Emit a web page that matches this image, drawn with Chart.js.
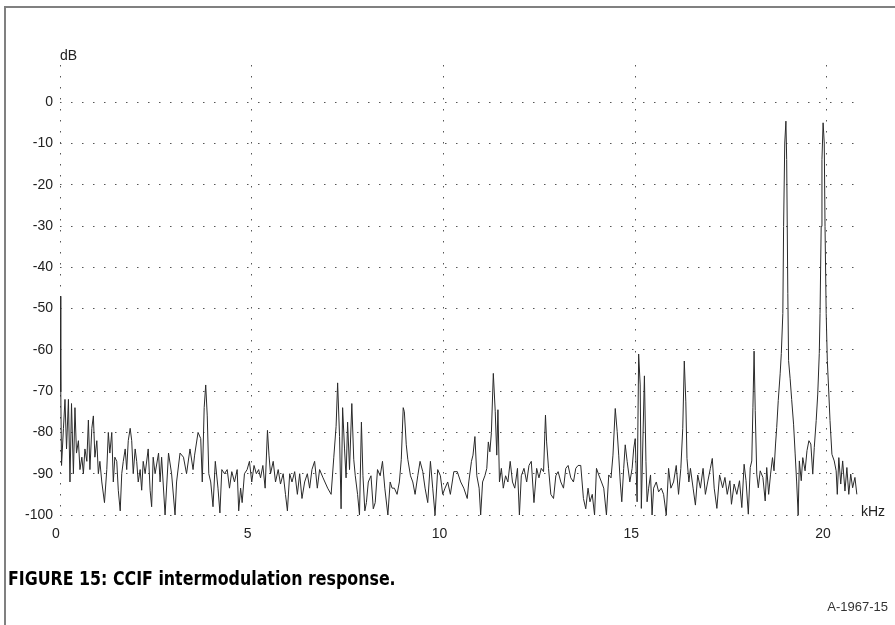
<!DOCTYPE html>
<html lang="en">
<head>
    <meta charset="UTF-8">
    <title>CCIF intermodulation response</title>
    <script src="https://cdn.jsdelivr.net/npm/chart.js"></script>
    <style>
        body { margin: 0; background: #fff; }
        #wrap { position: relative; width: 895px; height: 625px; overflow: hidden; }
        #frame { position: absolute; left: 4px; top: 6px; right: -4px; bottom: -4px;
                 border-top: 2px solid #808080; border-left: 2px solid #808080; }
        #caption { position: absolute; left: 8px; top: 566px; font-family: "Liberation Sans Narrow", "DejaVu Sans Condensed", sans-serif;
                   font-weight: bold; font-size: 20px; color: #000; white-space: nowrap;
                   transform: scaleX(0.88); transform-origin: left center; }
        #code { position: absolute; right: 7px; top: 599px; font-family: "Liberation Sans", Arial, sans-serif;
                font-size: 13px; color: #333; }
    </style>
</head>
<body>
<div id="wrap">
    <canvas id="myChart" width="895" height="625"></canvas>
    <div id="frame"></div>
    <div id="caption">FIGURE 15: CCIF intermodulation response.</div>
    <div id="code">A-1967-15</div>
</div>
<script>
    // [kHz, dB]
    const band0to3 = [
        [0.00, -47], [0.02, -70], [0.04, -88], [0.09, -79], [0.13, -72], [0.17, -84], [0.22, -72], [0.26, -92],
        [0.30, -73], [0.35, -90], [0.39, -74], [0.43, -85], [0.48, -82], [0.52, -89], [0.57, -86], [0.61, -90],
        [0.65, -84], [0.70, -87], [0.74, -77], [0.78, -89], [0.83, -79], [0.87, -76], [0.91, -86], [0.96, -82],
        [1.00, -90], [1.04, -87], [1.09, -92], [1.16, -97], [1.22, -89], [1.26, -80], [1.30, -85], [1.35, -80],
        [1.39, -92], [1.43, -86], [1.48, -87], [1.52, -94], [1.57, -99], [1.61, -90], [1.65, -87], [1.70, -84],
        [1.74, -89], [1.78, -82], [1.83, -79], [1.87, -82], [1.91, -90], [1.96, -84], [2.00, -87], [2.04, -92],
        [2.09, -89], [2.13, -94], [2.17, -87], [2.22, -90], [2.30, -84], [2.35, -94], [2.39, -98], [2.43, -86],
        [2.48, -90], [2.57, -85], [2.61, -92], [2.65, -86], [2.74, -100], [2.83, -85], [2.91, -90], [3.00, -100],
        [3.04, -92], [3.13, -85], [3.22, -86], [3.30, -90], [3.39, -84]
    ];
    const band3to7 = [
        [3.47, -89], [3.51, -85.5], [3.60, -80], [3.67, -81.5], [3.71, -92], [3.76, -74], [3.80, -68.5], [3.84, -76],
        [3.88, -90], [3.93, -92], [3.99, -98], [4.05, -87], [4.12, -93.5], [4.17, -99.5], [4.22, -89], [4.29, -90],
        [4.36, -89], [4.42, -93.5], [4.48, -89.5], [4.55, -92], [4.62, -89], [4.66, -99], [4.71, -93.5], [4.75, -97],
        [4.81, -90], [4.88, -89], [4.94, -87], [5.00, -92], [5.06, -88], [5.12, -90], [5.18, -89], [5.23, -91],
        [5.29, -88], [5.35, -93.5], [5.41, -79.5], [5.45, -85.5], [5.49, -90], [5.56, -87], [5.62, -92], [5.69, -89],
        [5.75, -92.5], [5.82, -90], [5.88, -95], [5.93, -99], [5.99, -90], [6.05, -92], [6.12, -89.5], [6.19, -95],
        [6.25, -90], [6.31, -96], [6.38, -92], [6.45, -90], [6.51, -93.5], [6.57, -89], [6.64, -87], [6.71, -93.5],
        [6.77, -89], [6.86, -91]
    ];
    const band7to10 = [
        [6.98, -93.5], [7.07, -95], [7.14, -86], [7.20, -78.5], [7.24, -68], [7.29, -81], [7.33, -98.5], [7.37, -74],
        [7.42, -84], [7.46, -91], [7.50, -77.5], [7.55, -89], [7.61, -73], [7.66, -86.5], [7.70, -90.5], [7.76, -95],
        [7.81, -100], [7.86, -77.5], [7.90, -90.5], [7.95, -99], [7.99, -97], [8.04, -92], [8.11, -90.5], [8.17, -98.5],
        [8.22, -97], [8.28, -89], [8.35, -90.5], [8.41, -87], [8.47, -93.5], [8.55, -100], [8.61, -92], [8.66, -93.5],
        [8.72, -93.5], [8.79, -95], [8.85, -92], [8.90, -86.5], [8.95, -74], [8.98, -75], [9.03, -83], [9.07, -86.5],
        [9.14, -90.5], [9.20, -92], [9.26, -95], [9.33, -90.5], [9.39, -87], [9.46, -89.5], [9.52, -93.5], [9.59, -97],
        [9.66, -87], [9.72, -93.5], [9.78, -100], [9.85, -89], [9.92, -90.5], [9.98, -95], [10.04, -93.5], [10.11, -92],
        [10.18, -95], [10.27, -89.5]
    ];
    const band10to14 = [
        [10.36, -89.5], [10.45, -92], [10.53, -93.5], [10.62, -96], [10.66, -92], [10.73, -87], [10.77, -85.5], [10.82, -81],
        [10.87, -90.5], [10.93, -93.5], [10.97, -100], [11.02, -92], [11.08, -90.5], [11.13, -88.7], [11.17, -82.3], [11.21, -84.7],
        [11.25, -80], [11.30, -65.7], [11.35, -75], [11.39, -85.5], [11.42, -74.5], [11.46, -92], [11.51, -88.7], [11.56, -93.5],
        [11.62, -90.5], [11.68, -92], [11.74, -87], [11.80, -92], [11.86, -93.5], [11.93, -88.7], [11.98, -100], [12.03, -90.5],
        [12.10, -88.7], [12.17, -92], [12.23, -88], [12.29, -87], [12.36, -97], [12.43, -88.7], [12.49, -91], [12.55, -88.7],
        [12.61, -89.5], [12.66, -75.8], [12.69, -82.3], [12.74, -88.7], [12.80, -95], [12.87, -96], [12.93, -90.5], [12.99, -89.5],
        [13.06, -92], [13.13, -93.5], [13.19, -88.7], [13.25, -88], [13.32, -91], [13.39, -92], [13.45, -88.7], [13.51, -88],
        [13.58, -88], [13.65, -96], [13.71, -98.5]
    ];
    const band14to17 = [
        [13.77, -93.5], [13.82, -96.8], [13.88, -95], [13.94, -100], [13.99, -88.7], [14.05, -90.3], [14.12, -92], [14.18, -93.5],
        [14.25, -100], [14.31, -90.3], [14.37, -91], [14.42, -85.5], [14.48, -74.2], [14.53, -79.8], [14.57, -85.5], [14.61, -92],
        [14.65, -96.8], [14.70, -88.7], [14.74, -83], [14.79, -87], [14.86, -92], [14.92, -88.7], [14.96, -84], [15.00, -81.5],
        [15.05, -96.8], [15.09, -61], [15.13, -68.5], [15.16, -98.4], [15.21, -78.2], [15.24, -66.3], [15.28, -87], [15.31, -96.8],
        [15.35, -93.5], [15.40, -90.3], [15.44, -100], [15.48, -93.5], [15.55, -92], [15.61, -94.4], [15.68, -93.5], [15.74, -95],
        [15.81, -100], [15.87, -88.7], [15.93, -93.5], [16.00, -92], [16.07, -88], [16.13, -95], [16.19, -88.7], [16.24, -79],
        [16.28, -62.7], [16.32, -72.6], [16.35, -86.3], [16.40, -92], [16.44, -88.7], [16.51, -93.5], [16.57, -97.6], [16.63, -90.3],
        [16.70, -93.5], [16.77, -88.7], [16.83, -95], [16.89, -92], [16.96, -88.7], [17.01, -86.3], [17.06, -93.5], [17.13, -98.4],
        [17.20, -90.3]
    ];
    const band17to21 = [
        [17.28, -93.4], [17.34, -90.9], [17.40, -95], [17.47, -91.7], [17.51, -97.4], [17.58, -92.5], [17.65, -95], [17.72, -91.7],
        [17.78, -98.2], [17.84, -87.7], [17.89, -91.7], [17.95, -99.8], [18.00, -88.5], [18.04, -86.9], [18.07, -73.9], [18.10, -60.3],
        [18.13, -74.7], [18.17, -90.1], [18.21, -93.4], [18.26, -89.3], [18.33, -90.9], [18.39, -96.6], [18.43, -88.5], [18.48, -95],
        [18.53, -90.1], [18.58, -86.1], [18.62, -89.3], [18.66, -82.8], [18.69, -78.8], [18.73, -72.3], [18.78, -65.8], [18.81, -60.9],
        [18.85, -51.2], [18.87, -30.1], [18.90, -9.9], [18.93, -4.6], [18.95, -13.9], [18.98, -46.4], [19.00, -62.6], [19.04, -67],
        [19.08, -72], [19.13, -78], [19.17, -85], [19.21, -92], [19.25, -100], [19.28, -86.9], [19.33, -91.7], [19.37, -86.1],
        [19.43, -89.3], [19.48, -84.4], [19.53, -82], [19.58, -82.8], [19.63, -90.1], [19.67, -83.6], [19.72, -77.1], [19.76, -70.7],
        [19.80, -60.9], [19.82, -51.2], [19.85, -30.1], [19.87, -13.9], [19.90, -5], [19.93, -9.9], [19.95, -30.1], [19.98, -51.2],
        [20.01, -62.6], [20.05, -70.7], [20.08, -77.1], [20.13, -85.3], [20.19, -86.9], [20.24, -89.3], [20.27, -95], [20.31, -86.1],
        [20.36, -92.5], [20.41, -86.9], [20.47, -94.2], [20.52, -88.5], [20.57, -95], [20.62, -90.1], [20.67, -93.4], [20.73, -90.9],
        [20.78, -95]
    ];

    const xTicks = [0, 5, 10, 15, 20];
    const yTicks = [0, -10, -20, -30, -40, -50, -60, -70, -80, -90, -100];

    const trace = [...band0to3, ...band3to7, ...band7to10, ...band10to14, ...band14to17, ...band17to21]
        .map(([f, db]) => ({ x: f, y: db }));

    const unitLabels = {
        id: 'unitLabels',
        afterDraw(chart) {
            const { ctx, chartArea } = chart;
            const yScale = chart.scales.y;
            ctx.save();
            ctx.fillStyle = '#222';
            ctx.font = '14px "Liberation Sans", Arial, sans-serif';
            ctx.textAlign = 'left';
            ctx.textBaseline = 'middle';
            ctx.fillText('dB', chartArea.left, 56);
            ctx.fillText('kHz', chartArea.right + 3, yScale.getPixelForValue(-100) - 3);
            ctx.restore();
        }
    };

    const dotted = { display: false, dash: [1.5, 9.5] };

    new Chart(document.getElementById('myChart').getContext('2d'), {
        type: 'line',
        data: {
            datasets: [{
                data: trace,
                borderColor: '#2a2a2a',
                borderWidth: 1,
                pointRadius: 0,
                tension: 0
            }]
        },
        options: {
            responsive: false,
            animation: false,
            layout: { padding: { left: 0, right: 37, top: 65, bottom: 80 } },
            plugins: { legend: { display: false }, tooltip: { enabled: false } },
            scales: {
                x: {
                    type: 'linear',
                    min: 0,
                    max: 20.81,
                    afterBuildTicks: scale => { scale.ticks = xTicks.map(v => ({ value: v })); },
                    afterFit: scale => { scale.height = 30; },
                    grid: { color: '#555', lineWidth: 1, drawTicks: false },
                    border: dotted,
                    ticks: {
                        padding: 11,
                        labelOffset: -4,
                        maxRotation: 0,
                        color: '#222',
                        font: { family: '"Liberation Sans", Arial, sans-serif', size: 14 }
                    }
                },
                y: {
                    min: -100,
                    max: 9,
                    afterBuildTicks: scale => { scale.ticks = yTicks.map(v => ({ value: v })); },
                    afterFit: scale => { scale.width = 60; },
                    grid: { color: '#555', lineWidth: 1, drawTicks: false },
                    border: dotted,
                    ticks: {
                        padding: 7,
                        color: '#222',
                        font: { family: '"Liberation Sans", Arial, sans-serif', size: 14 }
                    }
                }
            }
        },
        plugins: [unitLabels]
    });
</script>
</body>
</html>
